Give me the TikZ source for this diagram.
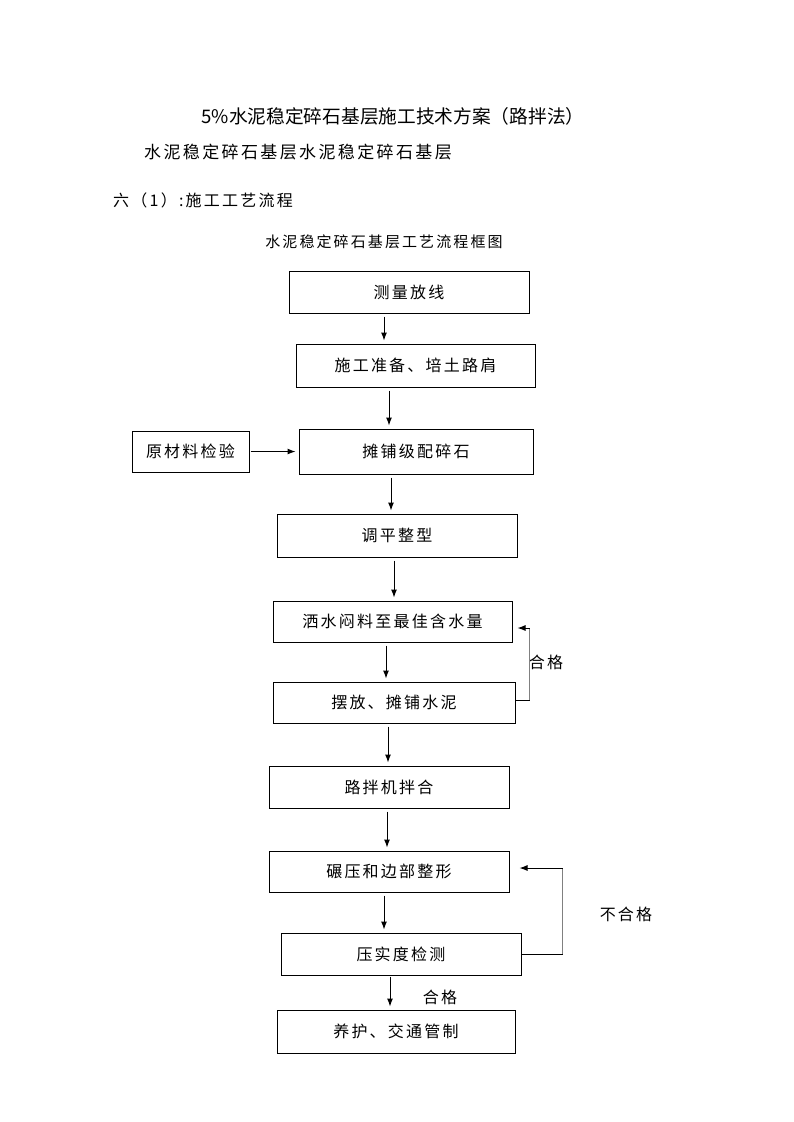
\documentclass[tikz,border=0pt]{standalone}
\usepackage{fontspec}
\setmainfont{Noto Sans CJK SC}
\newfontfamily\spacedfont[LetterSpace=14]{Noto Sans CJK SC}
\usetikzlibrary{arrows.meta,positioning}
\tikzset{
	block/.style={
		rectangle,
		draw=black,
		line width=1pt,
		minimum height=42pt,
		minimum width=240pt,
		inner sep=0pt,
		font=\spacedfont\fontsize{16}{18}\selectfont
	},
	heading/.style={
		inner sep=0pt,
		font=\spacedfont\fontsize{17}{20}\selectfont
	},
	note/.style={
		inner sep=0pt,
		font=\spacedfont\fontsize{16}{18}\selectfont
	},
	line/.style={
		draw=black,
		line width=1pt
	},
	arrow/.style={
		draw=black,
		line width=1pt,
		-{Latex[length=8pt,width=6pt]},
		shorten <=3pt,
		shorten >=3pt
	},
}

\begin{document}
\begin{tikzpicture}[x=1pt,y=-1pt,node distance=80pt,on grid]
	\useasboundingbox[fill=white] (0,0) rectangle (793,1122);
	% headings
	\node[heading,font=\normalfont\fontsize{18.7}{20}\selectfont] (title) at (393,116) {5\%水泥稳定碎石基层施工技术方案（路拌法）};
	\node[heading] (sub) at (298,152) {水泥稳定碎石基层水泥稳定碎石基层};
	\node[note,anchor=west] (sec) at (113,200) {六（1）:施工工艺流程};
	\node[note,font=\spacedfont\fontsize{15}{18}\selectfont] (cap) at (384,242) {水泥稳定碎石基层工艺流程框图};
	% flow boxes
	\node[block] (b1) at (409,292) {测量放线};
	\node[block,minimum width=239pt,minimum height=43pt] (b2) [below=73.5pt of b1,xshift=6.5pt] {施工准备、培土路肩};
	\node[block,minimum width=234pt,minimum height=45pt] (b4) [below=86pt of b2,xshift=0.5pt] {摊铺级配碎石};
	\node[block,minimum width=117pt,minimum height=41pt] (b3) [left=225.5pt of b4] {原材料检验};
	\node[block,minimum height=43pt] (b5) [below=84pt of b4,xshift=-19pt] {调平整型};
	\node[block,minimum width=239pt,minimum height=41pt] (b6) [below=86pt of b5,xshift=-4.5pt] {洒水闷料至最佳含水量};
	\node[block,minimum width=242pt,minimum height=41pt] (b7) [below=81pt of b6,xshift=1.5pt] {摆放、摊铺水泥};
	\node[block] (b8) [below=84.5pt of b7,xshift=-5pt] {路拌机拌合};
	\node[block,minimum height=41pt] (b9) [below=84.5pt of b8] {碾压和边部整形};
	\node[block] (b10) [below=82.5pt of b9,xshift=12pt] {压实度检测};
	\node[block,minimum width=238pt,minimum height=43pt] (b11) [below=77.5pt of b10,xshift=-5pt] {养护、交通管制};
	% labels
	\node[note] (ok1) at (546,662) {合格};
	\node[note] (nok) at (626,914) {不合格};
	\node[note] (ok2) at (440,997) {合格};
	% main arrows
	\draw[arrow] ([xshift=-25pt]b1.south) -- ([xshift=-25pt]b1.south |- b2.north);
	\draw[arrow] ([xshift=-26.5pt]b2.south) -- ([xshift=-26.5pt]b2.south |- b4.north);
	\draw[arrow,shorten <=1pt] (b3.east) -- (b4.west);
	\draw[arrow] ([xshift=-25pt]b4.south) -- ([xshift=-25pt]b4.south |- b5.north);
	\draw[arrow] ([xshift=-3pt]b5.south) -- ([xshift=-3pt]b5.south |- b6.north);
	\draw[arrow] ([xshift=-6.5pt]b6.south) -- ([xshift=-6.5pt]b6.south |- b7.north);
	\draw[arrow] ([xshift=-6pt]b7.south) -- ([xshift=-6pt]b7.south |- b8.north);
	\draw[arrow] ([xshift=-2pt]b8.south) -- ([xshift=-2pt]b8.south |- b9.north);
	\draw[arrow] ([xshift=-5pt]b9.south) -- ([xshift=-5pt]b9.south |- b10.north);
	\draw[arrow,shorten <=1pt] ([xshift=-11pt]b10.south) -- ([xshift=-11pt]b10.south |- b11.north);
	% return loops
	\coordinate (l1b) at ([xshift=14pt,yshift=2.5pt]b7.east);
	\path (b6.east) ++(0,6.5) coordinate (b6in);
	\draw[line] ([yshift=2.5pt]b7.east) -- (l1b);
	\draw[line,gray] (l1b) -- (l1b |- b6in);
	\draw[arrow,shorten <=0pt,shorten >=5pt] (l1b |- b6in) -- (b6in);
	\coordinate (l2b) at ([xshift=41pt]b10.east);
	\path (b9.east) ++(0,-3.5) coordinate (b9in);
	\draw[line] (b10.east) -- (l2b);
	\draw[line,gray] (l2b) -- (l2b |- b9in);
	\draw[arrow,shorten <=0pt,shorten >=10pt] (l2b |- b9in) -- (b9in);
\end{tikzpicture}
\end{document}
